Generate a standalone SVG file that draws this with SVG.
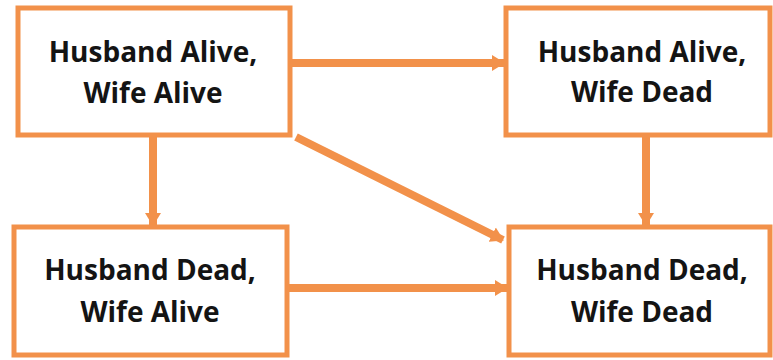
<svg xmlns="http://www.w3.org/2000/svg" width="773" height="360" viewBox="0 0 773 360">
<style>
.box{fill:#fff;stroke:#F2914A;stroke-width:5}
.lbl{font-family:"Open Sans","DejaVu Sans",sans-serif;font-weight:bold;font-size:28px;fill:#141414;text-anchor:middle}
.conn{stroke:#F2914A;stroke-width:8;fill:none}
</style>
<defs>
<marker id="ah" markerUnits="userSpaceOnUse" markerWidth="14" markerHeight="18" refX="12" refY="9" orient="auto">
<path d="M0,1 L13,9 L0,17 Z" fill="#F2914A"/>
</marker>
</defs>
<rect width="773" height="360" fill="#fff"/>
<g id="connectors">
<line class="conn" x1="292" y1="63" x2="504" y2="63" marker-end="url(#ah)"/>
<line class="conn" x1="296" y1="137" x2="503" y2="240" marker-end="url(#ah)"/>
<line class="conn" x1="153" y1="137" x2="153" y2="225" marker-end="url(#ah)"/>
<line class="conn" x1="646" y1="137" x2="646" y2="225" marker-end="url(#ah)"/>
<line class="conn" x1="289" y1="288" x2="507" y2="288" marker-end="url(#ah)"/>
</g>
<g id="n1"><rect class="box" x="18" y="8" width="272" height="127"/>
<text class="lbl" x="153" y="62">Husband Alive,</text><text class="lbl" x="153" y="103">Wife Alive</text></g>
<g id="n2"><rect class="box" x="506" y="8" width="264" height="127"/>
<text class="lbl" x="642" y="62">Husband Alive,</text><text class="lbl" x="642" y="102">Wife Dead</text></g>
<g id="n3"><rect class="box" x="14" y="227" width="273" height="128"/>
<text class="lbl" x="150" y="280">Husband Dead,</text><text class="lbl" x="150" y="322">Wife Alive</text></g>
<g id="n4"><rect class="box" x="509" y="227" width="261" height="128"/>
<text class="lbl" x="642" y="280">Husband Dead,</text><text class="lbl" x="642" y="322">Wife Dead</text></g>
</svg>
